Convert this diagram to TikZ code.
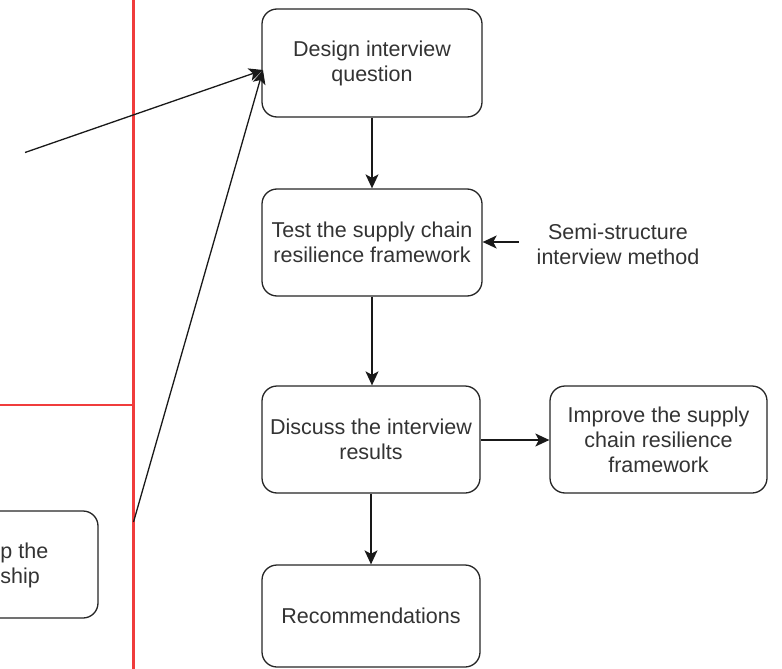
\documentclass[tikz,border=0pt]{standalone}
\usepackage{fontspec}
\setmainfont{Liberation Sans}
\usetikzlibrary{arrows.meta}
\definecolor{divider}{HTML}{F03C3C}
\definecolor{ink}{HTML}{333333}
\tikzset{
  stepbox/.style={draw=black!85, line width=1.3pt, rounded corners=15pt,
    fill=white, text=ink, align=center, inner sep=0pt,
    font=\fontsize{21.5}{25}\selectfont},
  plain/.style={text=ink, inner sep=0pt, align=center,
    font=\fontsize{21.5}{25}\selectfont},
  link/.style={draw=black!90, line width=1.3pt,
    -{Stealth[length=14pt,width=13pt,inset=3.5pt]}},
}
\begin{document}
\begin{tikzpicture}[x=1pt,y=-1pt]
\useasboundingbox (0,0) rectangle (782,669);
\clip (0,0) rectangle (782,669);

% dividing lines
\draw[divider, line width=3pt] (133.5,0) -- (133.5,669);
\draw[divider, line width=1.4pt] (0,405) -- (133.5,405);

% process boxes
\node[stepbox, minimum width=220pt, minimum height=108pt] (design) at (372,63)
  {Design interview\\question};
\node[stepbox, minimum width=220pt, minimum height=107pt] (test) at (372,242.5)
  {Test the supply chain\\resilience framework};
\node[stepbox, minimum width=218pt, minimum height=107pt] (discuss) at (371,439.5)
  {Discuss the interview\\results};
\node[stepbox, minimum width=217pt, minimum height=107pt] (improve) at (658.5,439.5)
  {Improve the supply\\chain resilience\\framework};
\node[stepbox, minimum width=218pt, minimum height=102pt] (recom) at (371,616)
  {Recommendations};
\node[plain] (method) at (618,244.5) {Semi-structure\\interview method};

% box on the far left
\node[stepbox, minimum width=220pt, minimum height=107pt] (left) at (-12,564.5) {};
\node[plain, anchor=east] (leftA) at (48.5,553) {p the};
\node[plain, anchor=east] (leftB) at (40,578) {ship};

% connectors
\coordinate (farend) at (25,152.5);
\coordinate (redpt) at (133.5,522);
\coordinate (tip) at (263,70);
\draw[link] (farend) -- (tip);
\draw[link] (redpt) -- (tip);
\draw[link] (design) -- (test);
\draw[link] (test) -- (discuss.north -| test);
\draw[link] (discuss) -- (recom.north -| discuss);
\draw[link] (discuss.east |- 0,440) -- (improve.west |- 0,440);
\draw[link] (method.west |- 0,242) ++(-18,0) -- (test.east |- 0,242);
\end{tikzpicture}
\end{document}
